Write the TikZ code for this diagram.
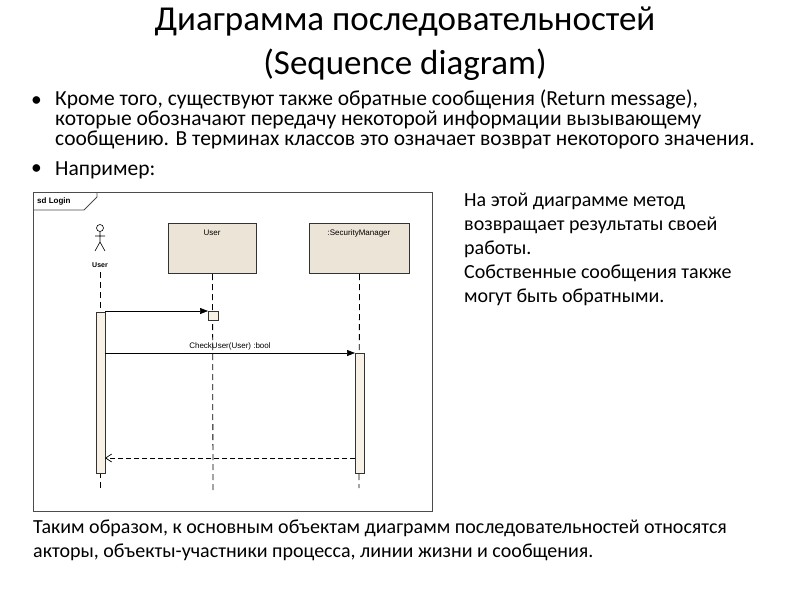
\documentclass[tikz,border=0pt]{standalone}
\usepackage{fontspec}
\setmainfont{Carlito}
\newfontfamily\arialf{Liberation Sans}
\usetikzlibrary{arrows.meta}
\definecolor{boxfill}{RGB}{236,228,214}
\definecolor{actfill}{RGB}{248,242,230}
\begin{document}
\begin{tikzpicture}[x=1pt,y=-1pt,
  txt/.style={anchor=west,inner sep=0pt,font=\fontsize{21.5}{20}\selectfont},
  rtxt/.style={anchor=west,inner sep=0pt,font=\fontsize{20}{24}\selectfont},
  lbl/.style={inner sep=0pt,font=\arialf\fontsize{8}{9}\selectfont},
  objbox/.style={draw=black!80,line width=1pt,fill=boxfill},
  act/.style={draw=black!80,line width=0.8pt,fill=actfill},
  life/.style={dashed,line width=0.8pt,dash pattern=on 6pt off 4pt},
  msg/.style={line width=0.7pt,-{Triangle[length=8pt,width=6pt]}},
  ret/.style={line width=0.7pt,dash pattern=on 5pt off 3pt,-{Straight Barb[length=6pt,width=8pt]}}]
\useasboundingbox (0,0) rectangle (800,600);
\node[font=\fontsize{35}{44}\selectfont,align=center] (title) at (405,44) {Диаграмма последовательностей\\(Sequence diagram)};
\node[txt] (b1) at (31,102) {•};
\node[txt,anchor=north west,align=left] (t1) at (55,90) {Кроме того, существуют также обратные сообщения (Return message),\\которые обозначают передачу некоторой информации вызывающему\\сообщению. В терминах классов это означает возврат некоторого значения.};
\node[txt] (b2) at (31,170) {•};
\node[txt] (t2) at (55,170) {Например:};
\node[rtxt,anchor=north west,align=left] (rt) at (464,193) {На этой диаграмме метод\\возвращает результаты своей\\работы.\\Собственные сообщения также\\могут быть обратными.};
\node[rtxt,anchor=north west,align=left] (bt) at (33,520) {Таким образом, к основным объектам диаграмм последовательностей относятся\\акторы, объекты-участники процесса, линии жизни и сообщения.};
% frame
\draw[black!70,line width=0.8pt] (33,192) rectangle (432,511);
\draw[black!70,line width=0.8pt] (33,210) -- (84,210) -- (97,197) -- (97,192);
\node[lbl,anchor=west,font=\arialf\bfseries\fontsize{8}{9}\selectfont] (sd) at (37,201) {sd Login};
% actor
\draw[line width=0.6pt] (100,228) circle (3.5);
\draw[line width=0.6pt] (100,231.5) -- (100,242) (95,236) -- (105,236) (95,251) -- (100,242) -- (105,251);
\node[lbl,font=\arialf\bfseries\fontsize{7}{8}\selectfont] (actor) at (100,265) {User};
\draw[life] (100,272) -- (100,488);
% objects
\node[objbox,minimum width=88pt,minimum height=50pt,anchor=north west] (u) at (168,223) {};
\node[lbl] at (212,233) {User};
\node[objbox,minimum width=100pt,minimum height=50pt,anchor=north west] (s) at (309,223) {};
\node[lbl] at (359,233) {:SecurityManager};
\draw[life] (u.south) -- (213,490);
\draw[life] (s.south) -- (359,488);
% activations
\node[act,minimum width=9pt,minimum height=161pt,inner sep=0pt,anchor=north west] (a1) at (96,312) {};
\node[act,minimum width=9pt,minimum height=120pt,inner sep=0pt,anchor=north west] (a2) at (355,353) {};
\node[act,minimum width=10pt,minimum height=9pt,inner sep=0pt,anchor=north west] (sb) at (208,311) {};
\coordinate (m1s) at (105,311);
\coordinate (m2s) at (105,353);
\coordinate (r1) at (355,458);
\coordinate (r2) at (105,458);
\draw[msg] (m1s) -- (sb.north west);
\draw[msg] (m2s) -- (a2.north west);
\node[lbl] at (230,346) {CheckUser(User) :bool};
\draw[ret] (r1) -- (r2);
\end{tikzpicture}
\end{document}
